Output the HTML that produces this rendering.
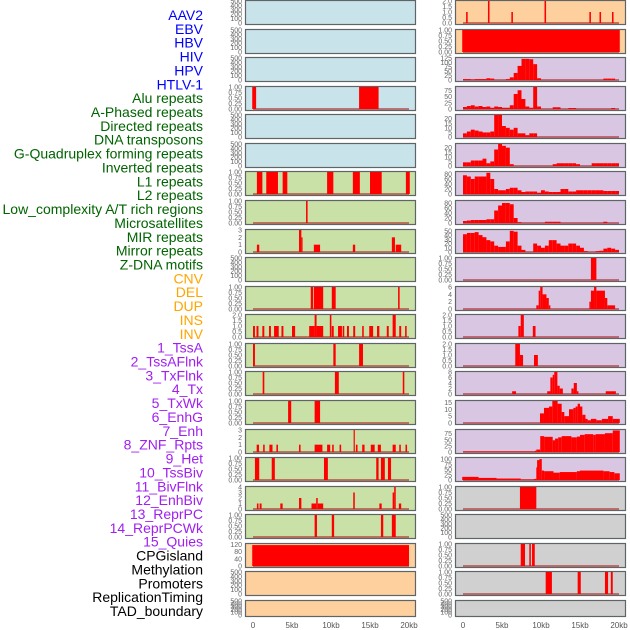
<!DOCTYPE html>
<html><head><meta charset="utf-8">
<style>
html,body{margin:0;padding:0;background:#fff;}
svg{display:block;font-family:"Liberation Sans",sans-serif;}
</style></head>
<body>
<svg id="chart" width="630" height="630" viewBox="0 0 630 630"></svg>
<script>
// ---- labels ----
const labels = ["AAV2","EBV","HBV","HIV","HPV","HTLV-1","Alu repeats","A-Phased repeats","Directed repeats","DNA transposons","G-Quadruplex forming repeats","Inverted repeats","L1 repeats","L2 repeats","Low_complexity A/T rich regions","Microsatellites","MIR repeats","Mirror repeats","Z-DNA motifs","CNV","DEL","DUP","INS","INV","1_TssA","2_TssAFlnk","3_TxFlnk","4_Tx","5_TxWk","6_EnhG","7_Enh","8_ZNF_Rpts","9_Het","10_TssBiv","11_BivFlnk","12_EnhBiv","13_ReprPC","14_ReprPCWk","15_Quies","CPGisland","Methylation","Promoters","ReplicationTiming","TAD_boundary"];
const labelGroups = [6,13,5,15,5];
const groupColors = ["#0000ff","#006400","#ffa500","#a020f0","#000000"];
const xTicks = [0,5,10,15,20];
const xTickLabels = ["0","5kb","10kb","15kb","20kb"];

// ---- left column data: segments [startKb,endKb,value] ----
const leftYMax = [500,500,500,1,500,500,1,1,3,500,1,2,1,1,1,3,1,4,1,122,500,500];
const leftTicks = ["E","E","E","U1","E","E","U1","U1","I3","E","U1","H2","U1","U1","U1","I3","U1","I4","U1","C120","E","E"];
const leftBg = ["#c8e3ea","#c8e3ea","#c8e3ea","#c8e3ea","#c8e3ea","#c8e3ea","#c9e0a6","#c9e0a6","#c9e0a6","#c9e0a6","#c9e0a6","#c9e0a6","#c9e0a6","#c9e0a6","#c9e0a6","#c9e0a6","#c9e0a6","#c9e0a6","#c9e0a6","#fed09e","#fed09e","#fed09e"];
const leftData = [
 [],[],[],
 [[-0.1,0.4,1],[13.6,16.1,1]],
 [],[],
 [[0.5,1.2,1],[1.7,3.2,1],[3.8,4.4,1],[9.5,10.3,1],[12.8,13.7,1],[15.0,16.5,1],[19.6,20.1,1]],
 [[6.8,7.0,1]],
 [[0.5,0.8,1],[5.9,6.2,3],[6.2,6.3,2],[7.8,8.6,1],[12.8,13.1,1],[17.8,18.2,2],[18.3,19.0,1]],
 [],
 [[7.4,7.7,1],[7.8,9.0,1],[10.1,10.6,1],[18.6,18.8,1]],
 [[0,0.25,1],[0.45,0.7,1],[1.2,1.45,1],[2.05,2.3,1],[2.7,3.3,1],[3.65,3.9,1],[5.0,5.4,1],[7.2,7.9,1],[7.9,8.15,2],[8.15,9.0,1],[9.85,10.05,2],[10.1,10.35,1],[10.9,11.4,1],[11.5,11.7,1],[12.05,12.3,1],[12.85,13.1,1],[14.0,14.2,1],[14.9,15.4,1],[15.9,16.2,1],[17.15,17.4,1],[17.9,18.3,2],[18.75,19.0,1],[19.5,19.7,1]],
 [[0,0.25,1],[10.3,10.6,1],[13.6,14.1,1]],
 [[1.24,1.45,1],[10.5,11.0,1],[19.2,19.4,1]],
 [[4.5,4.9,1],[7.9,8.6,1]],
 [[0.47,0.77,1],[1.3,1.5,1],[2.1,2.5,1],[3.0,3.2,1],[5.9,6.1,1],[7.9,8.9,1],[9.5,9.9,1],[10.15,10.35,1],[11.1,11.3,1],[12.9,13.05,3],[13.2,13.4,1],[14.0,14.3,1],[15.1,15.6,1],[16.0,16.4,1],[17.9,18.3,1],[18.75,18.95,1],[19.55,19.75,1]],
 [[0.25,0.8,1],[2.4,2.8,1],[9.1,9.6,1],[15.8,16.1,1],[16.4,16.9,1],[17.3,17.7,1]],
 [[0.5,0.7,1],[0.85,1.1,1],[3.5,3.8,1],[5.9,6.2,2],[7.5,8.1,1],[8.1,8.3,2],[8.3,9.0,1],[12.85,13.05,3],[16.2,16.5,1],[17.9,18.1,3],[18.1,18.3,4],[18.7,19.0,1]],
 [[7.9,8.2,1],[10.1,10.4,1],[16.4,16.7,1],[17.8,18.3,1]],
 [[-0.1,20.0,116]],
 [],[]
];

// ---- right column data ----
const rightYMax = [2,1,125,88,24,24,88,88,52,1,6,2,2,8,16,90,105,1,500,1,1,500];
const rightTicks = ["H2","U1","T125","T75","F20","F20","Q80","Q80","D50","U1","S6","H2","H2","S8","F15","T75","T100","U1","E","U1","U1","E"];
const rightBg = ["#fed09e","#fed09e","#d8c6e3","#d8c6e3","#d8c6e3","#d8c6e3","#d8c6e3","#d8c6e3","#d8c6e3","#d8c6e3","#d8c6e3","#d8c6e3","#d8c6e3","#d8c6e3","#d8c6e3","#d8c6e3","#d8c6e3","#d0d0d0","#d0d0d0","#d0d0d0","#d0d0d0","#d0d0d0"];
// 0.5kb bins for dense histograms
const rBins2 = [5,5,2,5,5,5,10,8,0,0,0,5,15,40,80,120,120,118,90,10,0,0,0,0,0,0,0,0,0,0,0,0,0,0,0,0,8,8,8,0];
const rBins3 = [8,12,15,10,12,8,10,5,10,8,5,5,15,60,75,40,10,5,90,10,0,0,0,7,7,0,0,4,4,0,0,0,0,0,0,0,0,0,4,0];
const rBins4 = [4,6,8,7,6,5,5,6,25,25,12,10,8,10,4,4,2,4,4,0,0,0,0,0,0,0,0,0,0,0,0,0,0,0,0,0,0,0,0,0];
const rBins5 = [4,4,6,6,6,8,3,5,18,24,22,20,2,0,0,0,0,0,0,0,0,0,0,2,3,3,3,3,3,2,0,0,0,3,3,3,3,3,3,3];
const rBins6 = [75,70,60,70,70,70,85,60,20,15,15,20,25,25,15,8,10,10,10,5,15,10,8,8,8,20,20,10,10,15,15,15,15,15,15,15,12,12,12,12];
const rBins7 = [8,10,12,12,12,12,15,15,50,70,80,80,75,20,3,0,0,0,0,0,0,5,5,5,5,0,0,0,0,0,0,0,0,0,0,0,5,0,0,0];
const rBins8 = [42,45,45,47,40,35,28,25,15,12,12,25,50,48,15,5,0,0,20,15,10,15,28,28,20,15,15,20,20,15,10,2,0,0,2,3,8,10,8,5];
const rightData = [
 [[0.4,0.6,1],[3.2,3.4,2],[6.2,6.4,1],[10.45,10.65,2],[16.2,16.4,1],[17.5,17.7,1],[19.1,19.3,1]],
 [[-0.1,20.1,1]],
 "B2","B3","B4","B5","B6","B7","B8",
 [[16.4,17.1,1]],
 [[9.4,9.7,1],[9.7,9.9,5],[9.9,10.2,6],[10.2,10.7,4],[10.7,11.0,3],[11.0,11.2,1],[16.2,16.4,2],[16.4,16.8,5],[16.8,17.1,6],[17.1,18.2,5],[18.2,18.5,3],[18.5,19.5,1]],
 [[7.1,7.4,1],[7.4,7.8,2],[8.95,9.3,1]],
 [[6.7,7.3,2],[7.3,7.7,1],[9.1,9.6,1]],
 [[6.3,6.8,1],[10.8,11.2,1],[11.2,11.5,6],[11.5,11.7,7],[11.7,12.1,8],[12.1,12.4,3],[12.4,12.8,2],[13.9,14.2,2],[14.2,14.6,4],[14.6,14.8,1],[18.3,19.6,1]],
 [[9.87,10.38,7],[10.38,11.03,11],[11.03,11.45,12],[11.45,12.13,16],[12.13,12.65,14],[12.65,12.99,8],[12.99,13.59,5],[13.59,14.15,10],[14.15,14.44,11],[14.44,14.7,12],[14.7,15.0,14],[15.0,15.3,12],[15.3,15.7,6],[15.7,15.98,3],[15.98,16.4,2],[16.4,17.1,3],[17.1,17.8,2],[17.8,18.6,3],[18.6,19.2,5],[19.2,20.1,3]],
 [[0,9.2,2],[9.2,9.4,5],[9.4,9.9,10],[9.9,10.4,65],[10.4,11.5,62],[11.5,11.8,48],[11.8,12.2,55],[12.2,12.65,60],[12.65,13.9,65],[13.9,14.6,60],[14.6,15.0,63],[15.0,15.6,70],[15.6,16.7,73],[16.7,17.0,70],[17.0,18.2,73],[18.2,19.2,77],[19.2,20.1,88]],
 [[-0.1,2.0,15],[2.0,4.3,10],[4.3,7.4,7],[7.4,9.1,2],[9.1,9.4,5],[9.4,9.5,60],[9.5,9.8,95],[9.8,10.1,100],[10.1,10.4,45],[10.4,11.6,42],[11.6,12.4,35],[12.4,14.6,38],[14.6,15.0,42],[15.0,18.0,45],[18.0,18.8,42],[18.8,19.4,38],[19.4,20.1,32]],
 [[7.3,9.4,1]],
 [],
 [[7.4,7.95,1],[8.5,8.7,1],[8.85,9.2,1]],
 [[10.6,11.4,1],[14.7,15.1,1],[18.2,18.6,1],[18.95,19.2,1]],
 []
];
const binSets = {B2:rBins2,B3:rBins3,B4:rBins4,B5:rBins5,B6:rBins6,B7:rBins7,B8:rBins8};

const tickSets = {
 E:[[0,"0"],[100,"100"],[200,"200"],[300,"300"],[400,"400"],[500,"500"]],
 U1:[[0,"0.00"],[0.25,"0.25"],[0.5,"0.50"],[0.75,"0.75"],[1,"1.00"]],
 H2:[[0,"0.0"],[0.5,"0.5"],[1,"1.0"],[1.5,"1.5"],[2,"2.0"]],
 I3:[[0,"0"],[1,"1"],[2,"2"],[3,"3"]],
 I4:[[0,"0"],[1,"1"],[2,"2"],[3,"3"],[4,"4"]],
 C120:[[0,"0"],[40,"40"],[80,"80"],[120,"120"]],
 T125:[[0,"0"],[25,"25"],[50,"50"],[75,"75"],[100,"100"],[125,"125"]],
 T75:[[0,"0"],[25,"25"],[50,"50"],[75,"75"]],
 T100:[[0,"0"],[25,"25"],[50,"50"],[75,"75"],[100,"100"]],
 F20:[[0,"0"],[5,"5"],[10,"10"],[15,"15"],[20,"20"]],
 F15:[[0,"0"],[5,"5"],[10,"10"],[15,"15"]],
 Q80:[[0,"0"],[20,"20"],[40,"40"],[60,"60"],[80,"80"]],
 D50:[[0,"0"],[10,"10"],[20,"20"],[30,"30"],[40,"40"],[50,"50"]],
 S6:[[0,"0"],[2,"2"],[4,"4"],[6,"6"]],
 S8:[[0,"0"],[2,"2"],[4,"4"],[6,"6"],[8,"8"]]
};

const NS = "http://www.w3.org/2000/svg";
const svg = document.getElementById("chart");
function mk(tag, attrs, parent){
  const e = document.createElementNS(NS, tag);
  for (const k in attrs) e.setAttribute(k, attrs[k]);
  (parent||svg).appendChild(e);
  return e;
}
const colLeft = [245, 416, 253];
const colRight = [455, 626, 463];
const KB = 7.8;
function rowTop(i){ return Math.round(i*28.57); }
function rowH(i){ return i===21 ? 17 : 25; }

// labels
const labelStep = (611-15)/(labels.length-1);
let li = 0;
labelGroups.forEach((n, g) => {
  for (let k=0;k<n;k++){
    const t = mk("text",{x:203,y:(15+li*labelStep+5).toFixed(1),"text-anchor":"end","font-size":"14",fill:groupColors[g]});
    t.textContent = labels[li];
    
    
    li++;
  }
});

function drawPanel(col, i, segs, ymax, tickKey, bg, side){
  const top = rowTop(i), h = rowH(i);
  const x0 = col[0], x1 = col[1], ox = col[2];
  const g = mk("g",{});
  
  
  const bgr = mk("rect",{x:x0+0.5,y:top+0.5,width:x1-x0-1,height:h-1,fill:bg,stroke:"#5f6566","stroke-width":"1.2"},g);
  
  
  const yZero = top + h - 2, yTop = top + 1;
  const ys = v => yZero - (v/ymax)*(yZero - yTop);
  const xs = kb => ox + kb*KB;
  tickSets[tickKey].forEach(([v,lab]) => {
    const t = mk("text",{x:x0-3,y:(ys(v)+2.5).toFixed(1),"text-anchor":"end","font-size":"7",fill:"#666"},g);
    t.textContent = lab;
    
    
  });
  if (ymax !== 500){
    const bl = mk("rect",{x:xs(0),y:yZero-1,width:20*KB,height:2,fill:"rgba(170,30,30,0.55)"},g);
    
    
  }
  segs.forEach(([a,b,v]) => {
    if (v<=0) return;
    const yv = Math.max(ys(v), yTop);
    const r = mk("rect",{x:xs(a).toFixed(2),y:yv.toFixed(2),width:Math.max((b-a)*KB,1.2).toFixed(2),height:(yZero-yv).toFixed(2),fill:"#ff0000"},g);
    
    
  });
}
function binsToSegs(bins){ return bins.map((v,i)=>[i*0.5, i*0.5+0.5, v]); }

for (let i=0;i<22;i++){
  drawPanel(colLeft, i, leftData[i], leftYMax[i], leftTicks[i], leftBg[i], "left");
  const rd = typeof rightData[i] === "string" ? binsToSegs(binSets[rightData[i]]) : rightData[i];
  drawPanel(colRight, i, rd, rightYMax[i], rightTicks[i], rightBg[i], "right");
}
[colLeft, colRight].forEach((col, c) => {
  xTicks.forEach((kb, j) => {
    const t = mk("text",{x:col[2]+kb*KB,y:628,"text-anchor":"middle","font-size":"8",fill:"#555"});
    t.textContent = xTickLabels[j];
    
    
  });
});
</script>
</body></html>
